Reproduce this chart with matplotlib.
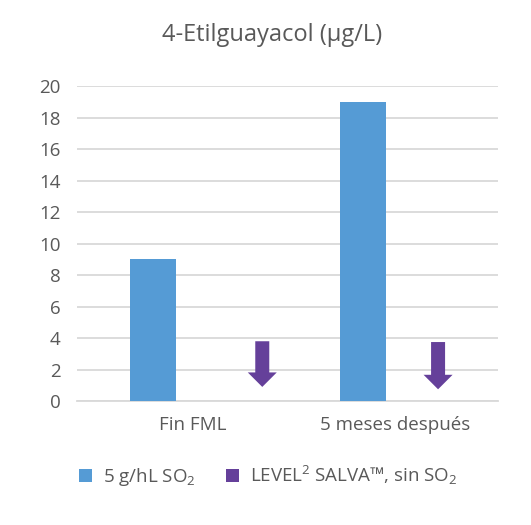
import matplotlib
matplotlib.use("Agg")
import matplotlib.pyplot as plt
from matplotlib.patches import Patch

plt.rcParams['font.family'] = ['Open Sans', 'DejaVu Sans']
plt.rcParams['mathtext.fontset'] = 'custom'
plt.rcParams['mathtext.rm'] = 'Open Sans'
plt.rcParams['mathtext.it'] = 'Open Sans'
plt.rcParams['mathtext.default'] = 'regular'

title = "4-Etilguayacol (µg/L)"
categories = ["Fin FML", "5 meses después"]
series_names = ["5 g/hL SO$_2$", "LEVEL$^2$ SALVA™, sin SO$_2$"]
so2_values = [9, 19]
salva_arrow_top = [3.8, 3.75]
salva_arrow_tip = [0.9, 0.75]
yticks = [0, 2, 4, 6, 8, 10, 12, 14, 16, 18, 20]

blue = "#559BD5"
purple = "#65409A"
text_col = "#595959"
grid_col = "#D9D9D9"

fig = plt.figure(figsize=(5.31, 5.25), dpi=100)
ax = fig.add_axes([0.145, 0.236, 0.793, 0.600])

n = len(categories)
bar_off = -0.14
arrow_off = [0.38, 0.215]
bar_w = 0.22

xs = list(range(n))
ax.bar([x + bar_off for x in xs], so2_values, width=bar_w, color=blue, zorder=3)

# arrows for second series (downward arrows)
px_x = 1 / 210.5   # data units per pixel, x
px_y = 1 / 15.75   # data units per pixel, y
for i in range(n):
    cx = xs[i] + arrow_off[i]
    top, tip = salva_arrow_top[i], salva_arrow_tip[i]
    sh = 7 * px_x
    hh = 14.5 * px_x
    hl = 14.5 * px_y
    xsq = [cx - sh, cx + sh, cx + sh, cx + hh, cx, cx - hh, cx - sh]
    ysq = [top, top, tip + hl, tip + hl, tip, tip + hl, tip + hl]
    ax.fill(xsq, ysq, color=purple, zorder=4, lw=0)

ax.set_xlim(-0.5, n - 0.5)
ax.set_ylim(0, 20)
ax.set_yticks(yticks)
ax.set_xticks([0.05, 1.01])
ax.set_xticklabels(categories)
ax.tick_params(axis='both', length=0, labelsize=13.5, colors=text_col)
ax.tick_params(axis='y', pad=12)
ax.tick_params(axis='x', pad=11)
ax.grid(axis='y', color=grid_col, lw=1.3, zorder=0)
ax.set_axisbelow(True)
for s in ['top', 'right', 'left']:
    ax.spines[s].set_visible(False)
ax.spines['bottom'].set_color(grid_col)
ax.spines['bottom'].set_linewidth(1.3)

fig.text(0.512, 0.933, title, ha='center', va='center', fontsize=17, color=text_col)

handles = [Patch(facecolor=blue), Patch(facecolor=purple)]
fig.legend(handles, series_names, loc='center', bbox_to_anchor=(0.505, 0.093), ncol=2,
           frameon=False, fontsize=13.5, labelcolor=text_col, handlelength=0.7,
           handleheight=0.7, handletextpad=0.6, columnspacing=1.6)

fig.savefig("out.png", dpi=100)
